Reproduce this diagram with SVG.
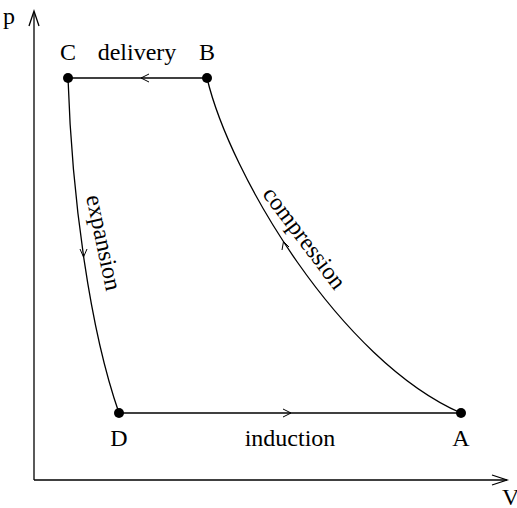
<svg xmlns="http://www.w3.org/2000/svg" width="517" height="508" viewBox="0 0 517 508">
<style>
.t{font-family:"Liberation Serif","Times New Roman",serif;font-size:24px;fill:#000}
.ln{fill:none;stroke:#000;stroke-width:1.3}
.ar{fill:none;stroke:#000;stroke-width:1}
.ax{fill:none;stroke:#000;stroke-width:1.3}
</style>
<rect width="517" height="508" fill="#fff"/>
<g id="axes">
<path class="ax" d="M34,480 V12"/>
<path class="ax" d="M29,26 L34,11 L39,26"/>
<path class="ax" d="M34,480 H507"/>
<path class="ax" d="M492,475 L507,480 L492,485"/>
<text class="t" font-family="Liberation Serif, serif" x="3" y="24">p</text>
<text class="t" font-family="Liberation Serif, serif" x="502" y="505">V</text>
</g>
<g id="connectors">
<path class="ln" d="M207,78 H68"/>
<path class="ar" d="M149,74 L141,78 L149,82"/>
<path class="ln" d="M68,78 C72,200 90,330 119,413"/>
<path class="ar" d="M80,249 L83.5,257 L87,249"/>
<path class="ln" d="M119,413 H461"/>
<path class="ar" d="M283,409 L291,413 L283,417"/>
<path class="ln" d="M461,413 C340,360 230,175 207,78"/>
<path class="ar" d="M282,250 L283.5,241.5 L289,247"/>
</g>
<g id="C"><circle cx="68" cy="78" r="5"/><text class="t" font-family="Liberation Serif, serif" x="68" y="60" text-anchor="middle">C</text></g>
<g id="B"><circle cx="207" cy="78" r="5"/><text class="t" font-family="Liberation Serif, serif" x="207" y="60" text-anchor="middle">B</text></g>
<g id="D"><circle cx="119" cy="413" r="5"/><text class="t" font-family="Liberation Serif, serif" x="119" y="446" text-anchor="middle">D</text></g>
<g id="A"><circle cx="461" cy="413" r="5"/><text class="t" font-family="Liberation Serif, serif" x="461" y="446" text-anchor="middle">A</text></g>
<g id="labels">
<text class="t" font-family="Liberation Serif, serif" x="137" y="60" text-anchor="middle">delivery</text>
<text class="t" font-family="Liberation Serif, serif" x="290" y="446" text-anchor="middle">induction</text>
<text class="t" font-family="Liberation Serif, serif" text-anchor="middle" transform="translate(102,243) rotate(78)" y="6">expansion</text>
<text class="t" font-family="Liberation Serif, serif" text-anchor="middle" transform="translate(303,239) rotate(53)" y="6">compression</text>
</g>
</svg>
